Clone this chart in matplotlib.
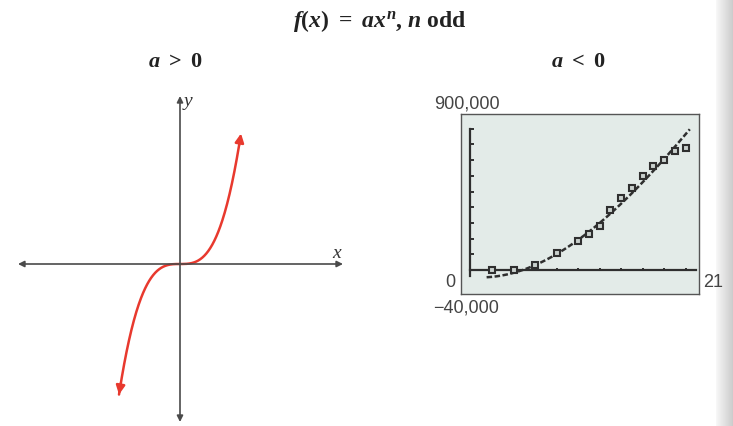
import numpy as np
import matplotlib
matplotlib.use("Agg")
import matplotlib.pyplot as plt

plt.rcParams['mathtext.fontset'] = 'custom'
plt.rcParams['mathtext.it'] = 'Liberation Serif:italic:bold'
plt.rcParams['mathtext.rm'] = 'Liberation Serif:bold'
plt.rcParams['mathtext.bf'] = 'Liberation Serif:bold'

# calculator screen data (right panel)
years = [2, 4, 6, 8, 10, 11, 12, 13, 14, 15, 16, 17, 18, 19, 20]
values = [0, 0, 32000, 110000, 185000, 230000, 281000, 383000,
          457000, 521000, 596000, 660000, 702000, 755000, 777000]
# points
curve_x = [1.5, 5.25, 9.0, 12.0, 14.9, 17.7, 20.4]
curve_y = [-51000, 27000, 123000, 304000, 484000, 686000, 894000]
window_x = [0, 21]
window_y = [-40000, 900000]
window_labels = ["0", "21", "\u221240,000", "900,000"]

W, H = 733, 427
fig = plt.figure(figsize=(W / 100, H / 100), dpi=100)
fig.patch.set_facecolor('white')

def fx(px):
    return px / W

def fy(py):
    return 1 - py / H

serif = 'Liberation Serif'

# titles
fig.text(fx(380), fy(21), r'$f(x)\ =\ ax^{n}$, $n$ odd', ha='center', va='center',
         fontsize=17, family=serif, fontweight='bold', color='#222')
fig.text(fx(175), fy(63), r'$a\ >\ 0$', ha='center', va='center', fontsize=16,
         family=serif, color='#222')
fig.text(fx(578), fy(63), r'$a\ <\ 0$', ha='center', va='center', fontsize=16,
         family=serif, color='#222')

# ---- left panel: sketch of y = a x^n, a > 0 ----
unit = 61.0
ox, oy = 180, 265
axl = fig.add_axes([0, 0, 360 / W, (H - 90) / H])
axl.set_xlim((0 - ox) / unit, (360 - ox) / unit)
axl.set_ylim((oy - 427) / unit, (oy - 90) / unit)
axl.axis('off')

axis_col = '#4a4a4a'
axl.annotate('', xy=((343 - ox) / unit, 0), xytext=((18 - ox) / unit, 0),
             arrowprops=dict(arrowstyle='<|-|>', color=axis_col, lw=1.2,
                             mutation_scale=9, shrinkA=0, shrinkB=0))
axl.annotate('', xy=(0, (oy - 97) / unit), xytext=(0, (oy - 423) / unit),
             arrowprops=dict(arrowstyle='<|-|>', color=axis_col, lw=1.2,
                             mutation_scale=9, shrinkA=0, shrinkB=0))
axl.text((337 - ox) / unit, (oy - 253) / unit, 'x', fontsize=14, family=serif,
         style='italic', ha='center', va='center', color='#333')
axl.text((188 - ox) / unit, (oy - 102) / unit, 'y', fontsize=14, family=serif,
         style='italic', ha='center', va='center', color='#333')

red = '#e8392e'
k = 2.14
xs = np.linspace(-1.0, 0.97, 300)
axl.plot(xs, k * xs ** 3, color=red, lw=1.8, solid_capstyle='round')
for x0, x1 in [(0.97, 1.0), (-0.97, -1.0)]:
    axl.annotate('', xy=(x1, k * x1 ** 3), xytext=(x0, k * x0 ** 3),
                 arrowprops=dict(arrowstyle='-|>', color=red, lw=1.8,
                                 mutation_scale=13, shrinkA=0, shrinkB=0))

# ---- right panel: calculator screen ----
px_per_x = 10.75
px_per_y = 15.7 / 100000
x0px, y0px = 470.5, 271
box_l, box_r, box_t, box_b = 460.7, 699, 115, 295
axr = fig.add_axes([fx(box_l), fy(box_b), (box_r - box_l) / W, (box_b - box_t) / H])
axr.set_xlim((box_l - x0px) / px_per_x, (box_r - x0px) / px_per_x)
axr.set_ylim((y0px - box_b) / px_per_y, (y0px - box_t) / px_per_y)
axr.set_facecolor('#e3ebe8')
for s in axr.spines.values():
    s.set_color('#555')
    s.set_linewidth(1.0)
axr.set_xticks([])
axr.set_yticks([])

ink = '#2f2f2f'
axr.plot(window_x, [0, 0], color=ink, lw=1.6)
axr.plot([0, 0], window_y, color=ink, lw=1.6)
axr.vlines(np.arange(2, 21, 2), 0, 14000, color=ink, lw=1.4)
axr.hlines(np.arange(100000, 900001, 100000), 0, 0.3, color=ink, lw=1.4)

coef = np.polyfit(curve_x, curve_y, 3)
cx = np.linspace(curve_x[0], curve_x[-1], 200)
axr.plot(cx, np.polyval(coef, cx), color=ink, lw=1.8, linestyle=(0, (2.2, 1.0)))
axr.plot(years, values, linestyle='none', marker='s', markersize=5.0,
         markerfacecolor='#c9d0cd', markeredgecolor=ink, markeredgewidth=1.5)

sans = 'Liberation Sans'
lab_col = '#444444'
fig.text(fx(450), fy(283), window_labels[0], ha='center', va='center',
         fontsize=13, family=sans, color=lab_col)
fig.text(fx(713), fy(283), window_labels[1], ha='center', va='center',
         fontsize=13, family=sans, color=lab_col)
fig.text(fx(466), fy(308), window_labels[2], ha='center', va='center',
         fontsize=13, family=sans, color=lab_col)
fig.text(fx(467), fy(104), window_labels[3], ha='center', va='center',
         fontsize=13, family=sans, color=lab_col)

# page gutter shading at the right edge of the scan
axg = fig.add_axes([fx(716), 0, 1 - fx(716), 1])
axg.imshow(np.linspace(0.97, 0.80, 40).reshape(1, -1), cmap='gray', vmin=0, vmax=1,
           aspect='auto', extent=[0, 1, 0, 1])
axg.axis('off')

fig.savefig('out.png', dpi=100)
